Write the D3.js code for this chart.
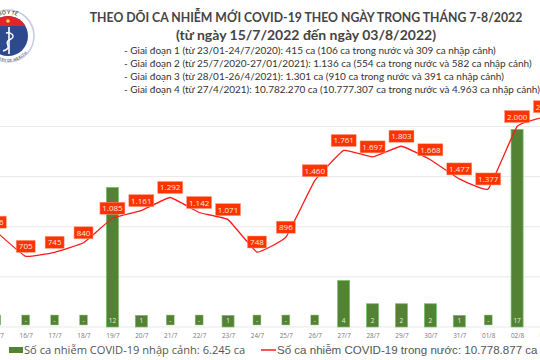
<!DOCTYPE html>
<html>
<head>
<meta charset="utf-8">
<script src="https://cdn.jsdelivr.net/npm/d3@7"></script>
<style>
  html, body { margin: 0; padding: 0; background: #fff; overflow: hidden; }
  svg { display: block; font-family: Lato, sans-serif; }
</style>
</head>
<body>
<svg id="chart" width="540" height="360"></svg>
<script>
// Du lieu doc tu hinh
const days = ["15/7", "16/7", "17/7", "18/7", "19/7", "20/7", "21/7", "22/7", "23/7", "24/7",
  "25/7", "26/7", "27/7", "28/7", "29/7", "30/7", "31/7", "01/8", "02/8", "03/8"];
const domestic = [946, 705, 745, 840, 1085, 1161, 1292, 1142, 1071, 748,
  896, 1460, 1761, 1697, 1803, 1668, 1477, 1377, 2000, 2098];
const imported = [0, 0, 0, 0, 12, 1, 0, 0, 1, 0, 0, 0, 4, 2, 2, 2, 1, 0, 17, 0];
const lineTicks = [0, 500, 1000, 1500, 2000];
const titleLines = [
  "THEO DÕI CA NHIỄM MỚI COVID-19 THEO NGÀY TRONG THÁNG 7-8/2022",
  "(từ ngày 15/7/2022 đến ngày 03/8/2022)"
];
const periods = [
  "- Giai đoạn 1 (từ 23/01-24/7/2020): 415 ca (106 ca trong nước và 309 ca nhập cảnh)",
  "- Giai đoạn 2 (từ 25/7/2020-27/01/2021): 1.136 ca (554 ca trong nước và 582 ca nhập cảnh)",
  "- Giai đoạn 3 (từ 28/01-26/4/2021): 1.301 ca (910 ca trong nước và 391 ca nhập cảnh)",
  "- Giai đoạn 4 (từ 27/4/2021): 10.782.270 ca (10.777.307 ca trong nước và 4.963 ca nhập cảnh)"
];
const legendBar = "Số ca nhiễm COVID-19 nhập cảnh: 6.245 ca";
const legendLine = "Số ca nhiễm COVID-19 trong nước: 10.778.877 ca";

const svg = d3.select("#chart");
const fmt = v => String(v).replace(/\B(?=(\d{3})+$)/g, ".");

// ===============================
// Scales
// ===============================
const x = d3.scalePoint().domain(days).range([-3.2, 546]);
const yLine = d3.scaleLinear().domain([0, 2000]).range([327, 126.5]);
const yBar = d3.scaleLinear().domain([0, 17.25]).range([327, 126.5]);

// ===============================
// Grid + axis
// ===============================
svg.append("g").selectAll("line")
  .data(lineTicks)
  .enter().append("line")
  .attr("x1", 0).attr("x2", 540)
  .attr("y1", d => yLine(d)).attr("y2", d => yLine(d))
  .attr("stroke", "#e9e9e9").attr("stroke-width", 1);

const xAxis = svg.append("g")
  .attr("transform", "translate(0,327)")
  .call(d3.axisBottom(x).tickSize(0).tickPadding(6.5));
xAxis.select(".domain").remove();
xAxis.selectAll("text")
  .attr("fill", "#777")
  .style("font-size", "6.4px")
  .style("font-family", "'Open Sans', sans-serif");

// ===============================
// Bars
// ===============================
svg.append("g").selectAll("rect")
  .data(days.map((d, i) => ({ day: d, v: imported[i] })).filter(d => d.v > 0))
  .enter().append("rect")
  .attr("x", d => x(d.day) - 6)
  .attr("width", 12)
  .attr("y", d => yBar(d.v))
  .attr("height", d => 327 - yBar(d.v))
  .attr("fill", "#548235")
  .attr("stroke", "#70c060")
  .attr("stroke-width", 0.7);

// nhan cot
const barLabels = svg.append("g").selectAll("g")
  .data(days.map((d, i) => ({ day: d, v: imported[i] })))
  .enter().append("g")
  .attr("transform", d => `translate(${x(d.day)},320)`);
barLabels.filter(d => d.v === 0).append("rect")
  .attr("x", -4).attr("y", -5).attr("width", 8).attr("height", 10)
  .attr("fill", "#548235").attr("stroke", "#a9d08e").attr("stroke-width", 0.5);
barLabels.append("text")
  .attr("text-anchor", "middle").attr("y", 2.5)
  .attr("fill", "#e8efe0")
  .style("font-family", "'Open Sans', sans-serif")
  .style("font-size", "6.5px")
  .text(d => d.v === 0 ? "-" : d.v);

// ===============================
// Line
// ===============================
const line = d3.line()
  .x((d, i) => x(days[i]))
  .y(d => yLine(d))
  .curve(d3.curveCardinal.tension(0.7));

svg.append("path")
  .datum(domestic)
  .attr("d", line)
  .attr("fill", "none")
  .attr("stroke", "#ff1a1a")
  .attr("stroke-width", 1.3);

// nhan duong
const lineLabels = svg.append("g").selectAll("g")
  .data(days.map((d, i) => ({ day: d, v: domestic[i] })))
  .enter().append("g")
  .attr("transform", d => `translate(${x(d.day)},${yLine(d.v) - 10})`);
lineLabels.append("rect")
  .attr("x", d => d.v >= 1000 ? -12.5 : -9.5)
  .attr("width", d => d.v >= 1000 ? 25 : 19)
  .attr("y", -6).attr("height", 12)
  .attr("fill", "#ff3300")
  .attr("stroke", "#ff9a80").attr("stroke-width", 0.5);
lineLabels.append("text")
  .attr("text-anchor", "middle").attr("y", 3)
  .attr("fill", "#ffe9e0")
  .style("font-family", "'Open Sans', sans-serif")
  .style("font-size", "8px")
  .text(d => fmt(d.v));

// ===============================
// Titles
// ===============================
svg.append("g").selectAll("text")
  .data(titleLines)
  .enter().append("text")
  .attr("x", 306)
  .attr("y", (d, i) => 21.5 + i * 18)
  .attr("text-anchor", "middle")
  .attr("fill", "#444")
  .style("font-weight", "700")
  .style("font-size", (d, i) => i === 0 ? "12.26px" : "14px")
  .text(d => d);

svg.append("g").selectAll("text")
  .data(periods)
  .enter().append("text")
  .attr("x", 124)
  .attr("y", (d, i) => 54 + i * 13)
  .attr("fill", "#333")
  .style("font-size", "9.97px")
  .text(d => d);

// ===============================
// Legend
// ===============================
svg.append("rect")
  .attr("x", 9).attr("y", 347).attr("width", 14).attr("height", 6)
  .attr("fill", "#548235");
svg.append("text")
  .attr("x", 24).attr("y", 354)
  .attr("fill", "#555")
  .style("font-family", "'Open Sans', sans-serif")
  .style("font-size", "11.1px")
  .text(legendBar);
svg.append("line")
  .attr("x1", 261).attr("x2", 276)
  .attr("y1", 350).attr("y2", 350)
  .attr("stroke", "#ff1a1a").attr("stroke-width", 1.5);
svg.append("text")
  .attr("x", 277).attr("y", 354)
  .attr("fill", "#555")
  .style("font-family", "'Liberation Sans', sans-serif")
  .style("font-size", "11.55px")
  .text(legendLine);

// ===============================
// Logo Bo Y te
// ===============================
const logo = svg.append("g").attr("transform", "translate(8,36)");
const defs = svg.append("defs");
defs.append("clipPath").attr("id", "logo-cap")
  .append("rect").attr("x", -30).attr("y", -30).attr("width", 60).attr("height", 20);
defs.append("path").attr("id", "logo-top").attr("d", "M-22,0A22,22 0 0 1 22,0");
defs.append("path").attr("id", "logo-bottom").attr("d", "M-22,0A22,22 0 0 0 22,0");

logo.append("circle").attr("r", 26).attr("fill", "#fff").attr("stroke", "#c5cbe0").attr("stroke-width", 1.5);
logo.append("circle").attr("r", 20).attr("fill", "#2e4a8f");
logo.append("circle").attr("r", 20).attr("fill", "#e3242b").attr("clip-path", "url(#logo-cap)");
logo.append("circle").attr("cx", 0).attr("cy", -15).attr("r", 1.8).attr("fill", "#ffd83a");
logo.append("line").attr("x1", 1).attr("x2", 1).attr("y1", -9).attr("y2", 18)
  .attr("stroke", "#fff").attr("stroke-width", 1.6);
logo.append("path")
  .attr("d", "M-5,15C7,11 -7,7 3,3C8,0 3,-4 -2,-3")
  .attr("fill", "none").attr("stroke", "#fff").attr("stroke-width", 1.4);
logo.append("text").attr("fill", "#555").style("font-size", "5px").style("font-weight", "700")
  .append("textPath").attr("href", "#logo-top").attr("startOffset", "50%").attr("text-anchor", "middle")
  .text("BỘ Y TẾ");
logo.append("text").attr("fill", "#555").attr("dy", 3.5).style("font-size", "3.6px").style("font-weight", "700")
  .append("textPath").attr("href", "#logo-bottom").attr("startOffset", "50%").attr("text-anchor", "middle")
  .text("MINISTRY OF HEALTH");
</script>
</body>
</html>
